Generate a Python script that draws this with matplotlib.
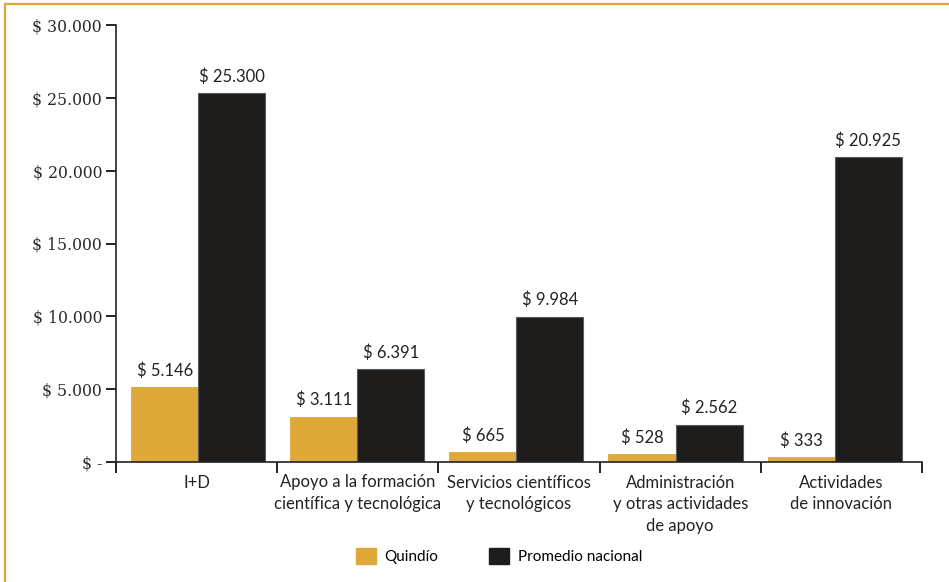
import numpy as np
import matplotlib
matplotlib.use("Agg")
import matplotlib.pyplot as plt
from matplotlib.patches import Patch
from matplotlib.lines import Line2D

categorias = ["I+D", "Apoyo a la formación\ncientífica y tecnológica",
              "Servicios científicos\ny tecnológicos",
              "Administración\ny otras actividades\nde apoyo",
              "Actividades\nde innovación"]
quindio = [5146, 3111, 665, 528, 333]
nacional = [25300, 6391, 9984, 2562, 20925]
yticks = [0, 5000, 10000, 15000, 20000, 25000, 30000]
yticklabels = ["$ -", "$ 5.000", "$ 10.000", "$ 15.000", "$ 20.000", "$ 25.000", "$ 30.000"]

oro = "#DFA93A"
negro = "#1E1D1B"
sans = ["Lato", "DejaVu Sans"]

def miles(v):
    return "$ " + f"{v:,}".replace(",", ".")

fig = plt.figure(figsize=(9.49, 5.82), dpi=100)
ax = fig.add_axes([116/949, 120/582, (922-116)/949, (462-25)/582])

x = np.arange(len(categorias))
centros = x * 0.987 + 0.01
w = 0.416
b1 = ax.bar(centros - w/2, quindio, w, color=oro, edgecolor=oro, linewidth=0.6)
b2 = ax.bar(centros + w/2, nacional, w, color=negro, edgecolor="#5a5a5a", linewidth=0.8)

for barras, vals in ((b1, quindio), (b2, nacional)):
    for r, v in zip(barras, vals):
        ax.annotate(miles(v), (r.get_x() + r.get_width()/2, v), xytext=(0, 6),
                    textcoords="offset points", ha="center", va="bottom",
                    fontsize=12, family=sans, color="#222222")

ax.set_xlim(-0.5, 4.5)
ax.set_ylim(0, 30000)
ax.set_yticks(yticks)
ax.set_yticklabels(yticklabels, family="DejaVu Serif", fontsize=11.3, color="#2a2a2a")
ax.set_xticks(x)
ax.set_xticklabels(categorias, family=sans, fontsize=12, color="#222222", linespacing=1.45)
ax.set_xticks(np.arange(-0.5, 5, 1), minor=True)
ax.tick_params(axis="x", which="major", length=0, pad=9)
ax.tick_params(axis="x", which="minor", length=8, width=1.2, direction="out")
ax.tick_params(axis="y", length=7, width=1.2, direction="out", pad=3)

for s in ("top", "right"):
    ax.spines[s].set_visible(False)
for s in ("left", "bottom"):
    ax.spines[s].set_linewidth(1.2)
    ax.spines[s].set_color("#222222")

handles = [Patch(facecolor=oro, edgecolor=oro), Patch(facecolor=negro, edgecolor=negro)]
fig.legend(handles, ["Quindío", "Promedio nacional"], loc="center",
           bbox_to_anchor=(499/949, 26/582), ncol=2, frameon=False,
           prop={"family": sans, "size": 11}, handlelength=1.3, handleheight=1.25,
           handletextpad=0.6, columnspacing=3.3)

# marco dorado superior e izquierdo
fig.add_artist(Line2D([5/949, 1], [1 - 3.5/582, 1 - 3.5/582], color=oro, lw=1.6))
fig.add_artist(Line2D([5/949, 5/949], [0, 1 - 3.5/582], color=oro, lw=1.6))

fig.savefig("out.png", dpi=100)
